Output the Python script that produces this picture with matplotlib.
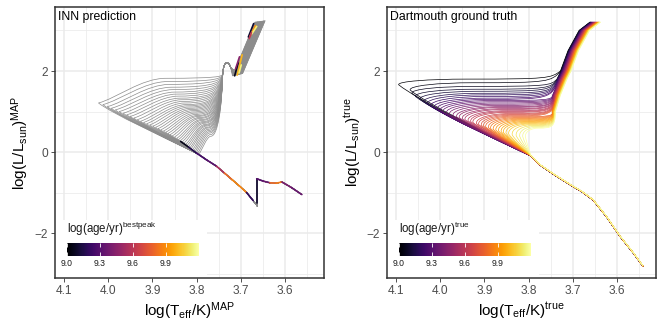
import matplotlib
matplotlib.use("Agg")
import matplotlib.pyplot as plt
from matplotlib.path import Path
from matplotlib.patches import PathPatch, Rectangle
from matplotlib.collections import LineCollection
from matplotlib.colors import Normalize
from matplotlib.colorbar import ColorbarBase

plt.rcParams['font.family'] = ['Liberation Sans', 'DejaVu Sans']
plt.rcParams['mathtext.fontset'] = 'custom'
plt.rcParams['mathtext.rm'] = 'Liberation Sans'
plt.rcParams['mathtext.it'] = 'Liberation Sans:italic'
plt.rcParams['mathtext.bf'] = 'Liberation Sans:bold'

# isochrone ages, log(age/yr)
ages = [9.00, 9.03, 9.06, 9.09, 9.12, 9.15, 9.18, 9.21, 9.24, 9.27,
        9.30, 9.33, 9.36, 9.39, 9.42, 9.45, 9.48, 9.51, 9.54, 9.57,
        9.60, 9.63, 9.66, 9.69, 9.72, 9.75, 9.78, 9.81, 9.84, 9.87,
        9.90, 9.93, 9.96, 9.99, 10.02, 10.05, 10.08, 10.11, 10.14, 10.17,
        10.20]

# --- Dartmouth ground truth: turn-off tip, subgiant level, RGB offset per isochrone
true_tip_teff = [4.094, 4.068, 4.064, 4.056, 4.046, 4.037, 4.029, 4.021, 4.014, 4.007,
                 4.000, 3.994, 3.986, 3.979, 3.971, 3.963, 3.957, 3.950, 3.944, 3.937,
                 3.931, 3.926, 3.918, 3.913, 3.907, 3.902, 3.897, 3.891, 3.886, 3.880,
                 3.874, 3.868, 3.862, 3.857, 3.851, 3.845, 3.837, 3.828, 3.820, 3.813,
                 3.807]
true_tip_lum = [1.66, 1.53, 1.45, 1.37, 1.30, 1.24, 1.19, 1.14, 1.10, 1.06,
                1.02, 0.99, 0.96, 0.93, 0.90, 0.87, 0.85, 0.82, 0.80, 0.77,
                0.75, 0.73, 0.70, 0.68, 0.66, 0.64, 0.62, 0.60, 0.58, 0.56,
                0.54, 0.52, 0.50, 0.48, 0.46, 0.44, 0.42, 0.40, 0.38, 0.37,
                0.36]
true_top_lum = [1.80, 1.71, 1.62, 1.55, 1.50, 1.45, 1.41, 1.37, 1.33, 1.30,
                1.27, 1.24, 1.21, 1.18, 1.15, 1.12, 1.10, 1.07, 1.05, 1.02,
                1.00, 0.98, 0.95, 0.93, 0.91, 0.89, 0.87, 0.85, 0.83, 0.81,
                0.79, 0.77, 0.75, 0.73, 0.71, 0.69, 0.67, 0.65, 0.63, 0.61,
                0.59]
true_rgb_shift = [0.000, -0.001, -0.001, -0.002, -0.002, -0.003, -0.004, -0.004, -0.005, -0.005,
                  -0.006, -0.007, -0.007, -0.008, -0.008, -0.009, -0.010, -0.010, -0.011, -0.011,
                  -0.012, -0.013, -0.013, -0.014, -0.014, -0.015, -0.016, -0.016, -0.017, -0.017,
                  -0.018, -0.019, -0.019, -0.020, -0.020, -0.021, -0.022, -0.022, -0.023, -0.023,
                  -0.024]

# shared lower main sequence and giant branch
true_ms_teff = [3.541, 3.563, 3.593, 3.624, 3.654, 3.680, 3.699, 3.740, 3.775, 3.795]
true_ms_lum = [-2.83, -2.50, -2.09, -1.60, -1.19, -0.98, -0.86, -0.58, -0.32, -0.10]
true_rgb_teff = [3.772, 3.763, 3.752, 3.737, 3.728, 3.711, 3.686, 3.661]
true_rgb_lum = [0.60, 1.00, 1.40, 1.80, 2.00, 2.50, 3.00, 3.21]
true_sg_end = 3.752

# --- INN prediction (grey tracks)
inn_tip_teff = [4.022, 4.012, 4.002, 3.993, 3.984, 3.975, 3.966, 3.958, 3.950, 3.942,
                3.934, 3.927, 3.920, 3.913, 3.906, 3.899, 3.893, 3.887, 3.881, 3.875,
                3.870, 3.865, 3.860, 3.855, 3.850, 3.845, 3.841, 3.837, 3.833, 3.829,
                3.825, 3.822, 3.819, 3.816, 3.813, 3.810, 3.807, 3.804, 3.801, 3.798,
                3.795]
inn_tip_lum = [1.21, 1.17, 1.12, 1.08, 1.04, 1.00, 0.96, 0.92, 0.88, 0.84,
               0.80, 0.76, 0.73, 0.70, 0.67, 0.64, 0.61, 0.58, 0.55, 0.52,
               0.49, 0.46, 0.43, 0.40, 0.37, 0.34, 0.31, 0.28, 0.25, 0.22,
               0.19, 0.16, 0.13, 0.10, 0.08, 0.05, 0.03, 0.01, -0.01, -0.03,
               -0.05]
inn_top_lum = [1.82, 1.74, 1.67, 1.60, 1.54, 1.48, 1.43, 1.38, 1.33, 1.29,
               1.25, 1.21, 1.17, 1.14, 1.11, 1.08, 1.05, 1.02, 0.99, 0.96,
               0.93, 0.90, 0.88, 0.85, 0.83, 0.80, 0.78, 0.75, 0.73, 0.71,
               0.68, 0.66, 0.64, 0.61, 0.59, 0.56, 0.53, 0.50, 0.47, 0.43,
               0.39]
inn_rgb_shift = [0.000, -0.001, -0.001, -0.002, -0.002, -0.003, -0.003, -0.004, -0.005, -0.005,
                 -0.006, -0.006, -0.007, -0.007, -0.008, -0.009, -0.009, -0.010, -0.010, -0.011,
                 -0.012, -0.012, -0.013, -0.013, -0.014, -0.014, -0.015, -0.016, -0.016, -0.017,
                 -0.017, -0.018, -0.019, -0.019, -0.020, -0.020, -0.021, -0.021, -0.022, -0.023,
                 -0.023]
inn_ms_teff = [3.562, 3.585, 3.607, 3.620, 3.634, 3.649, 3.664, 3.663, 3.672, 3.687,
               3.703, 3.720, 3.737, 3.755, 3.778, 3.795]
inn_ms_lum = [-1.05, -0.88, -0.74, -0.77, -0.76, -0.72, -0.66, -1.33, -1.20, -1.00,
              -0.84, -0.68, -0.52, -0.35, -0.19, -0.06]
inn_wall_teff = [3.741, 3.739, 3.727, 3.722]
inn_wall_lum = [1.92, 2.28, 2.26, 2.06]
inn_rgb_teff = [3.719, 3.668]
inn_rgb_lum = [1.88, 3.21]

# INN colour-coded predictions (best-peak age)
inn_ms_col_teff = [3.836, 3.818, 3.800, 3.778, 3.755, 3.737, 3.720, 3.703, 3.687, 3.672]
inn_ms_col_lum = [0.26, 0.12, -0.03, -0.19, -0.35, -0.52, -0.68, -0.84, -1.00, -1.20]
inn_ms_col_age = [9.05, 9.15, 9.25, 9.30, 9.55, 9.80, 9.88, 9.88, 9.20]
inn_z_col_teff = [3.664, 3.664, 3.649, 3.634, 3.620, 3.607, 3.585, 3.562]
inn_z_col_lum = [-1.25, -0.66, -0.72, -0.76, -0.77, -0.74, -0.88, -1.05]
inn_z_col_age = [9.10, 9.30, 9.35, 9.80, 9.85, 9.40, 9.35]
inn_rgb_col_teff0 = [3.714, 3.708, 3.704, 3.712, 3.683, 3.679, 3.675, 3.681]
inn_rgb_col_lum0 = [1.88, 1.90, 1.95, 2.05, 2.84, 2.86, 2.92, 2.80]
inn_rgb_col_teff1 = [3.706, 3.697, 3.699, 3.703, 3.671, 3.667, 3.664, 3.676]
inn_rgb_col_lum1 = [2.20, 2.40, 2.15, 2.35, 3.17, 3.12, 3.10, 2.95]
inn_rgb_col_age = [9.05, 10.00, 10.15, 9.45, 9.10, 9.90, 10.15, 9.60]

cmap = plt.get_cmap('inferno')
norm = Normalize(9.0, 10.2)


def lower_branch(j_t, j_l, t_t, t_l):
    c1 = (j_t + 0.40 * (t_t - j_t), j_l + 0.38 * (t_l - j_l))
    c2 = (j_t + 0.85 * (t_t - j_t), j_l + 0.78 * (t_l - j_l))
    return [c1, c2, (t_t, t_l)], [Path.CURVE4] * 3


def true_path(i):
    tt, tl, top, s = true_tip_teff[i], true_tip_lum[i], true_top_lum[i], true_rgb_shift[i]
    # older isochrones sit a hair above the younger ones on the lower main sequence
    verts = [(t, l - 0.6 * s) for t, l in zip(true_ms_teff, true_ms_lum)]
    codes = [Path.MOVETO] + [Path.LINETO] * (len(verts) - 1)
    v, c = lower_branch(verts[-1][0], verts[-1][1], tt, tl)
    verts += v
    codes += c
    end_t = true_sg_end + 0.4 * s
    w = tt - end_t
    h = top - tl
    verts += [(tt + 0.003, tl + 0.6 * h), (tt - 0.2 * w, top), (tt - 0.45 * w, top)]
    codes += [Path.CURVE4] * 3
    rgb = [(rt + s, rl) for rt, rl in zip(true_rgb_teff, true_rgb_lum) if rl > top + 0.12]
    # bend smoothly from the subgiant branch into the giant branch
    verts += [(end_t + 0.004, top), (end_t - 0.002, top + 0.02), rgb[0]]
    codes += [Path.CURVE4] * 3
    verts += rgb[1:]
    codes += [Path.LINETO] * (len(rgb) - 1)
    return Path(verts, codes)


def inn_path(i):
    verts = list(zip(inn_ms_teff, inn_ms_lum))
    codes = [Path.MOVETO] + [Path.LINETO] * (len(verts) - 1)
    tt, tl, top, s = inn_tip_teff[i], inn_tip_lum[i], inn_top_lum[i], inn_rgb_shift[i]
    v, c = lower_branch(verts[-1][0], verts[-1][1], tt, tl)
    verts += v
    codes += c
    w = tt - 3.745
    h = top - tl
    verts += [(tt - 0.15 * w, tl + 0.2 * h), (tt - 0.35 * w, top), (tt - 0.55 * w, top)]
    codes += [Path.CURVE4] * 3
    # climb the wall and over the bump
    verts += [(3.752, top), (3.743, top + 0.45 * (inn_wall_lum[0] - top)),
              (inn_wall_teff[0], inn_wall_lum[0])]
    codes += [Path.CURVE4] * 3
    verts += list(zip(inn_wall_teff[1:], inn_wall_lum[1:]))
    codes += [Path.CURVE4] * 3
    verts += [(inn_rgb_teff[0] + s, inn_rgb_lum[0] - 2.5 * s),
              (inn_rgb_teff[1] + s, inn_rgb_lum[1] - 1.5 * s)]
    codes += [Path.LINETO] * 2
    return Path(verts, codes)


def style_axes(ax, xlab, ylab, label):
    ax.set_xlim(4.1204, 3.5118)
    ax.set_ylim(-3.11, 3.58)
    ax.set_xticks([4.1, 4.0, 3.9, 3.8, 3.7, 3.6])
    ax.set_xticklabels(['4.1', '4.0', '3.9', '3.8', '3.7', '3.6'])
    ax.set_xticks([4.05, 3.95, 3.85, 3.75, 3.65, 3.55], minor=True)
    ax.set_yticks([-2, 0, 2])
    ax.set_yticks([-3, -1, 1, 3], minor=True)
    ax.set_axisbelow(True)
    ax.grid(which='major', color='#EBEBEB', lw=1.1)
    ax.grid(which='minor', color='#EBEBEB', lw=0.55)
    ax.tick_params(which='major', length=2.75, width=0.6, color='#333333',
                   labelcolor='#4D4D4D', labelsize=8.6, pad=2.5)
    ax.tick_params(which='minor', length=0)
    for sp in ax.spines.values():
        sp.set_color('#333333')
        sp.set_linewidth(1.1)
        sp.set_zorder(8)
    ax.set_xlabel(xlab, fontsize=11, labelpad=2)
    ax.set_ylabel(ylab, fontsize=11, labelpad=2)
    ax.text(0.011, 0.963, label, transform=ax.transAxes, fontsize=8.8,
            ha='left', va='center', color='black', zorder=7)


def add_legend(fig, ax, left_px, title):
    ax.add_patch(Rectangle((0, 0), 0.565, 0.214, transform=ax.transAxes,
                           facecolor='white', edgecolor='none', zorder=6))
    ax.text(0.0446, 0.165, title, transform=ax.transAxes, fontsize=8.3,
            ha='left', va='baseline', color='#1A1A1A', zorder=7)
    cax = fig.add_axes([(left_px + 12) / 664, (332 - 256) / 332, 132 / 664, 13 / 332])
    cb = ColorbarBase(cax, cmap=cmap, norm=norm, orientation='horizontal',
                      ticks=[9.0, 9.3, 9.6, 9.9])
    cb.set_ticklabels(['9.0', '9.3', '9.6', '9.9'])
    cb.outline.set_visible(False)
    cax.tick_params(direction='in', length=2.6, width=0.6, color='white', top=True,
                    bottom=True, labelsize=6.2, labelcolor='#1A1A1A', pad=2.5)


fig = plt.figure(figsize=(6.64, 3.32), dpi=100)
ax1 = fig.add_axes([55 / 664, (332 - 278) / 332, 269 / 664, 271 / 332])
ax2 = fig.add_axes([387 / 664, (332 - 278) / 332, 269 / 664, 271 / 332])

# left: INN prediction
for i in range(len(ages)):
    ax1.add_patch(PathPatch(inn_path(i), fill=False, edgecolor='#8C8C8C', lw=0.5,
                            zorder=2, snap=False, joinstyle='round'))

segs = [[(inn_ms_col_teff[k], inn_ms_col_lum[k]), (inn_ms_col_teff[k + 1], inn_ms_col_lum[k + 1])]
        for k in range(len(inn_ms_col_age))]
segs += [[(inn_z_col_teff[k], inn_z_col_lum[k]), (inn_z_col_teff[k + 1], inn_z_col_lum[k + 1])]
         for k in range(len(inn_z_col_age))]
segs += [[(inn_rgb_col_teff0[k], inn_rgb_col_lum0[k]), (inn_rgb_col_teff1[k], inn_rgb_col_lum1[k])]
         for k in range(len(inn_rgb_col_age))]
lc = LineCollection(segs, cmap=cmap, norm=norm, linewidths=1.2, zorder=3, capstyle='round')
lc.set_array(inn_ms_col_age + inn_z_col_age + inn_rgb_col_age)
ax1.add_collection(lc)

# right: Dartmouth ground truth
for i in range(len(ages)):
    ax2.add_patch(PathPatch(true_path(i), fill=False, edgecolor=cmap(norm(ages[i])),
                            lw=0.5, zorder=2, snap=False, joinstyle='round'))

style_axes(ax1, r'$\mathrm{log(T_{eff}/K)^{MAP}}$', r'$\mathrm{log(L/L_{sun})^{MAP}}$',
           'INN prediction')
style_axes(ax2, r'$\mathrm{log(T_{eff}/K)^{true}}$', r'$\mathrm{log(L/L_{sun})^{true}}$',
           'Dartmouth ground truth')
add_legend(fig, ax1, 55, r'$\mathrm{log(age/yr)^{bestpeak}}$')
add_legend(fig, ax2, 387, r'$\mathrm{log(age/yr)^{true}}$')

fig.savefig('out.png', dpi=100)
